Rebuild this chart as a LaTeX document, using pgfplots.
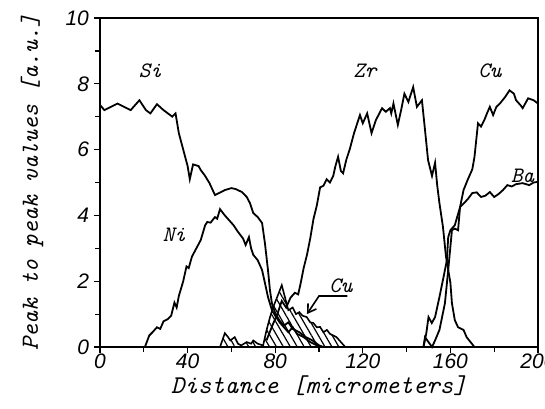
\documentclass[border=0pt]{standalone}
\usepackage{pgfplots}
\pgfplotsset{compat=1.18}
\usepackage{fontspec}
\newfontfamily\tickfont{Liberation Sans}
\usetikzlibrary{patterns.meta,arrows.meta}
\begin{document}
\begin{tikzpicture}
\begin{axis}[
  width=219pt, height=164.5pt, scale only axis,
  xmin=0, xmax=200, ymin=0, ymax=10,
  xtick={0,40,...,200}, minor xtick={20,60,...,180},
  ytick={0,2,...,10}, minor ytick={1,3,...,9},
  tick align=outside, tick pos=left,
  major tick length=3pt, minor tick length=2.5pt,
  every tick/.style={black, line width=0.6pt},
  axis line style={line width=0.6pt},
  /pgf/number format/assume math mode=true,
  ticklabel style={font=\tickfont\itshape\fontsize{10.5}{12}\selectfont},
  xticklabel style={yshift=3pt},
  yticklabel style={xshift=1pt},
  xlabel={Distance [micrometers]},
  ylabel={Peak to peak values [a.u.]},
  ylabel style={font=\ttfamily\itshape\fontsize{12.3}{14}\selectfont, at={(axis description cs:-0.155,0.5)}, anchor=center},
  xlabel style={font=\ttfamily\itshape\fontsize{12.8}{14}\selectfont, at={(axis description cs:0.5,-0.118)}, anchor=center},
  clip=false,
]
% Cu (middle, hatched)
\addplot[draw=black, line width=0.8pt, pattern={Lines[angle=-60,distance=3pt,line width=0.6pt]}] coordinates {
(54.8,0)(57,0.42)(58.5,0.3)(59.5,0.2)(61.5,0.3)(63,0.1)(64.5,0.05)(67,0.15)(69,0.1)(70,0.2)(72,0.1)(74.5,0.05)(76,0.5)(77.6,0.9)(79,1.2)(80.8,1.5)(83,1.88)(84.5,1.5)(86,1.12)(88,1.2)(89.5,1.0)(91,1.06)(92.5,0.95)(94.4,0.91)(96,0.75)(97.4,0.73)(99,0.6)(100.5,0.61)(102,0.45)(103.6,0.52)(105,0.4)(108,0.3)(110,0.15)(112,0)
} \closedcycle;
% Si
\addplot[black, line width=0.9pt] coordinates {
(0,7.36)(2,7.2)(5,7.3)(8,7.4)(11,7.3)(14,7.2)(18,7.5)(21,7.2)(23,7.1)(26,7.38)(29,7.2)(33,7.0)(34.5,7.1)(36,6.5)(38,6.0)(40,5.5)(41,5.1)(42.5,5.55)(45,5.5)(46,5.38)(48,5.2)(50,4.98)(52.5,4.62)(55,4.7)(57,4.77)(60,4.83)(62,4.8)(64.8,4.71)(67,4.56)(68.5,4.37)(70,4.07)(72,3.95)(74,3.77)(75.3,3.16)(76.7,2.34)(77.6,1.73)(78.5,1.33)(80,1.03)(82,0.8)(84,0.65)(86,0.75)(88,0.55)(91,0.45)(94,0.3)(97,0.2)(100,0.05)(102,0)
};
% Ni
\addplot[black, line width=0.9pt] coordinates {
(20.5,0)(22.5,0.35)(24,0.45)(26,0.6)(27.5,0.55)(29,0.78)(31,0.85)(32.5,0.95)(34,1.35)(35,1.2)(36,1.55)(38,2.0)(39.5,2.45)(40.5,2.4)(42,2.75)(44,3.0)(46,3.25)(48,3.7)(49,3.8)(50.5,3.78)(52.5,3.95)(53.5,3.9)(54.8,4.19)(57,4.0)(59,3.85)(61,3.7)(63,3.5)(65.3,3.3)(66.5,3.1)(68,3.34)(69,3.0)(70,2.8)(72,2.64)(74,2.34)(75.3,1.95)(76.7,1.52)(78.5,1.12)(80,0.95)(82,0.75)(84,0.6)(86,0.45)(88,0.6)(90,0.4)(93,0.3)(96,0.15)(99,0.05)(101,0)
};
% Zr
\addplot[black, line width=0.9pt] coordinates {
(76,0.2)(79,0.7)(81,1.0)(83,1.4)(85,1.2)(87,1.5)(89,1.65)(90.5,1.6)(91.5,1.9)(93,2.4)(94.5,2.8)(96,3.3)(97.5,3.9)(99,4.3)(100.5,4.85)(102,4.9)(103.5,5.1)(105,5.0)(106.5,5.2)(107.5,5.5)(108.7,5.78)(110,5.35)(111,5.28)(112.5,5.7)(114,6.0)(116,6.5)(118.7,7.05)(120,6.8)(122,7.1)(124,6.5)(126,6.9)(128.8,7.26)(130.5,7.15)(132.4,7.26)(133,7.1)(134,7.4)(136,6.75)(137.5,7.2)(139,7.7)(140.8,7.45)(143,7.9)(144.7,7.3)(147,7.5)(148.4,6.6)(149.8,5.68)(151.6,5.2)(153,5.6)(154,4.9)(155,4.37)(156.6,3.65)(158,2.74)(160,1.95)(160.7,1.33)(162,0.82)(163.5,0.6)(166,0.52)(167.4,0.3)(171,0)
};
% Cu (right)
\addplot[black, line width=0.9pt] coordinates {
(147.7,0)(149,0.42)(150,0.91)(151.5,0.73)(153,0.91)(155,1.52)(156.6,2.04)(158.4,2.64)(159,3.34)(160,3.55)(162,3.7)(164.4,4.25)(166,4.77)(168,5.1)(170,5.4)(171,5.78)(172.6,6.8)(174,6.7)(175.5,6.9)(176.7,7.1)(178,7.3)(179.5,7.05)(181,7.3)(182.6,7.4)(185,7.6)(187,7.8)(189,7.7)(190,7.5)(192,7.35)(193,7.26)(195.5,7.56)(198,7.5)(200,7.4)
};
% Ba
\addplot[black, line width=0.9pt] coordinates {
(147.7,0)(148.4,0.3)(150,0.15)(151.6,0)(153,0.2)(155,0.52)(157.5,1.33)(159,2.34)(160.7,3.55)(162,3.6)(163.5,3.55)(164.4,4.25)(166.6,4.4)(168,4.5)(170,4.68)(172,4.7)(174,4.56)(176,4.6)(178,4.71)(180,4.56)(182,4.65)(184,4.77)(186,4.92)(188,4.88)(190,4.95)(193,4.98)(196,4.92)(198,5.0)(200,5.02)
};
\begin{scope}[every node/.style={font=\ttfamily\itshape\fontsize{11}{12}\selectfont}]
\node at (axis cs:23,8.4) {Si};
\node at (axis cs:121,8.4) {Zr};
\node at (axis cs:178,8.4) {Cu};
\node at (axis cs:193,5.2) {Ba};
\node at (axis cs:34,3.4) {Ni};
\node at (axis cs:110,1.85) {Cu};
\end{scope}
\draw[line width=0.8pt, -{Straight Barb[length=4pt,width=5pt]}] (axis cs:113,1.55) -- (axis cs:100,1.55) -- (axis cs:94.5,1.0);
\end{axis}
\pgfresetboundingbox
\path[use as bounding box] ([xshift=-50pt,yshift=-30.5pt]current axis.south west) rectangle ([xshift=3.5pt,yshift=9pt]current axis.north east);
\end{tikzpicture}
\end{document}
